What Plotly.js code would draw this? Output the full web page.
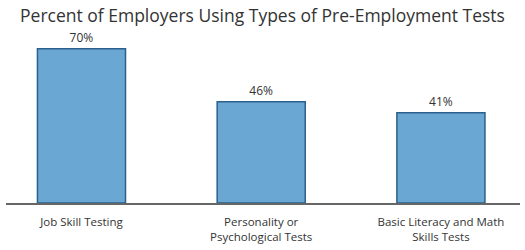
<!DOCTYPE html>
<html><head><meta charset="utf-8">
<script src="https://cdn.plot.ly/plotly-3.0.1.min.js"></script>
<style>body{margin:0;background:#fff}</style>
</head><body>
<div id="chart" style="width:525px;height:250px"></div>
<script>
const categories = ["Job Skill Testing", "Personality or<br>Psychological Tests", "Basic Literacy and Math<br>Skills Tests"];
const values = [70, 46, 41];
const labels = ["70%", "46%", "41%"];

Plotly.newPlot("chart", [{
  type: "bar",
  x: [0, 1, 2],
  y: values,
  text: labels,
  textposition: "outside",
  cliponaxis: false,
  textfont: {family: "'Open Sans', sans-serif", size: 12, color: "#333"},
  width: 0.49,
  marker: {color: "#6aa8d3", line: {color: "#2b5f8c", width: 1.5}},
  hoverinfo: "none"
}], {
  width: 525, height: 250,
  margin: {l: 6, r: 5, t: 40, b: 47},
  paper_bgcolor: "#fff", plot_bgcolor: "#fff",
  title: {text: "Percent of Employers Using Types of Pre-Employment Tests",
    x: 0.5, xanchor: "center", y: 0.935, yanchor: "middle",
    font: {family: "'Open Sans', sans-serif", size: 17.5, color: "#333"}},
  xaxis: {range: [-0.42, 2.44], tickvals: [0, 1, 2], ticktext: categories,
    showgrid: false, zeroline: false, showline: true, linecolor: "#666", linewidth: 1.5,
    ticks: "", ticklabelstandoff: 8,
    tickfont: {family: "'Open Sans', sans-serif", size: 11.5, color: "#333"}},
  yaxis: {range: [0, 74], visible: false, showgrid: false, zeroline: false},
  showlegend: false
}, {displayModeBar: false, staticPlot: true});
</script>
</body></html>
